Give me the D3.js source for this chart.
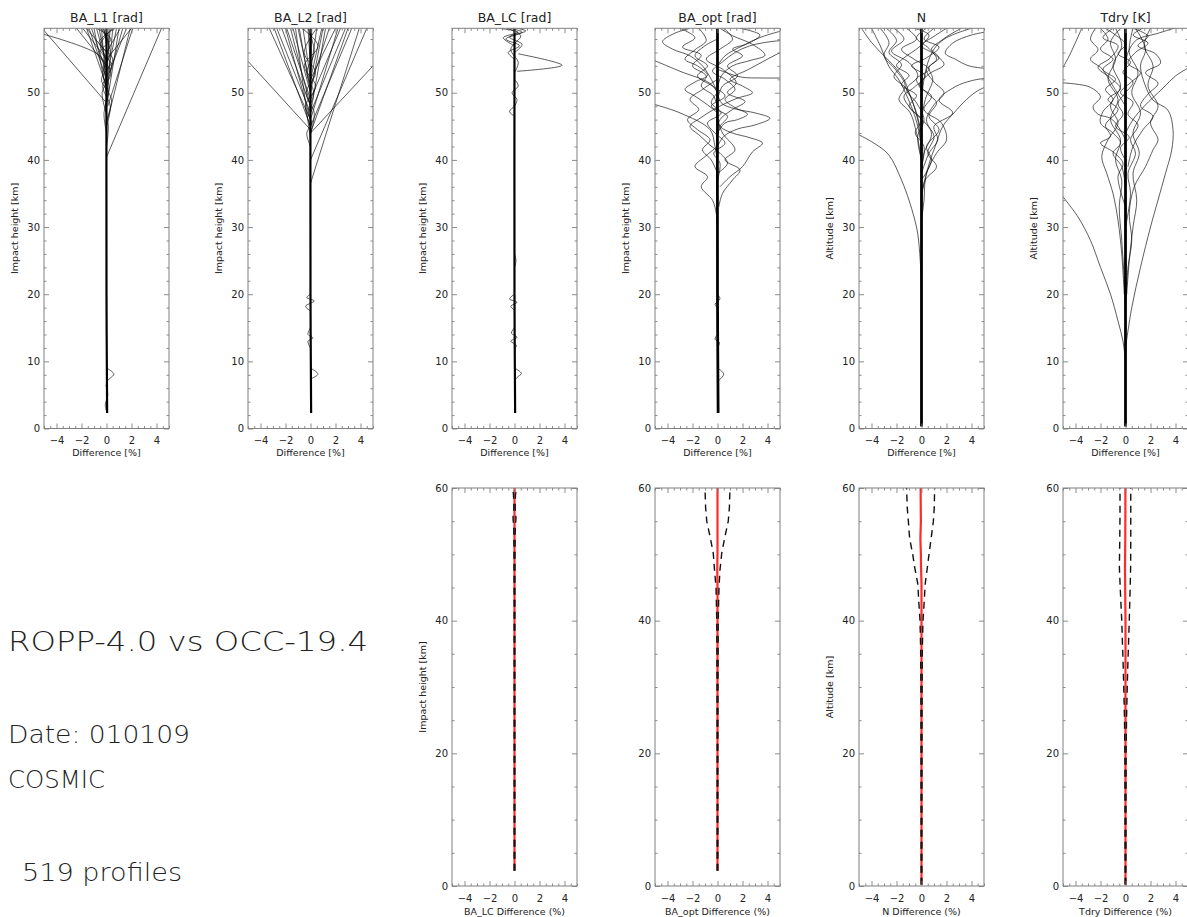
<!DOCTYPE html>
<html>
<head>
<meta charset="utf-8">
<script src="https://cdn.jsdelivr.net/npm/d3@7"></script>
<style>
  body { margin: 0; background: #fff; }
  svg text { font-family: "DejaVu Sans", sans-serif; fill: #222; }
</style>
</head>
<body>
<svg id="chart" width="1187" height="917"></svg>
<script>
// ---- labels ----
const panelTitles = ["BA_L1 [rad]", "BA_L2 [rad]", "BA_LC [rad]", "BA_opt [rad]", "N", "Tdry [K]"];
const topYLabels = ["Impact height [km]", "Impact height [km]", "Impact height [km]", "Impact height [km]", "Altitude [km]", "Altitude [km]"];
const bottomXLabels = ["BA_LC Difference (%)", "BA_opt Difference (%)", "N Difference (%)", "Tdry Difference (%)"];
const bottomYLabels = ["Impact height [km]", "", "Altitude [km]", ""];
const infoLines = ["ROPP-4.0 vs OCC-19.4", "Date: 010109", "COSMIC", "519 profiles"];

// ---- top row: individual difference profiles, [difference %, height km] ----
const ba1Core = [[0.05, 2.3], [0, 20], [0, 59.6]];
const ba1Profiles = [
  [[0, 48.5], [-5.2, 59.7]],
  [[0, 53.5], [-0.6, 55.6], [-5.2, 58.8]],
  [[0, 40.4], [4.4, 59.6]],
  [[0.1, 48], [2.1, 59.6]],
  [[0.1, 46], [1.9, 59.6]],
  [[0.2, 53], [1.6, 59.6]],
  [[0, 51], [-1.6, 59.6]],
  [[0, 53], [-1.2, 59.6]],
  [[-0.1, 55], [-0.8, 59.6]],
  [[0, 50], [-0.4, 59.6]],
  [[0, 52], [0.8, 59.6]],
  [[0, 56], [1.1, 59.6]],
  [[0, 49], [0.5, 59.6]],
  [[0, 55], [-1.9, 59.6]],
  [[0, 51], [1.3, 59.6]],
  [[0, 57], [-0.2, 59.6]],
  [[0, 54], [-2.4, 59.6]],
  [[0, 50], [-1.0, 59.6]],
  [[0, 52], [-1.4, 59.6]],
  [[0, 53], [0.3, 59.6]],
  [[0, 55], [2.0, 59.6]],
  [[0, 48], [1.0, 59.6]],
  [[0, 54], [-0.6, 59.6]],
  [[0, 56], [-1.6, 59.6]],
  [[0, 50], [0.2, 59.6]],
  [[0, 42], [0.15, 45], [-0.1, 48], [0.2, 51], [-0.25, 54], [0.2, 57], [-0.3, 59.6]],
  [[0, 44], [-0.2, 47], [0.15, 50], [-0.3, 53], [0.3, 56], [-0.4, 59.6]],
  [[0, 45], [0.3, 48], [-0.3, 51], [0.4, 54], [-0.5, 57], [0.5, 59.6]],
  [[0, 46], [0.4, 49], [-0.4, 52], [0.5, 55], [-0.6, 57.5], [0.7, 59.6]],
  [[0, 47], [-0.35, 50], [0.35, 53], [-0.55, 56], [0.35, 58], [-0.8, 59.6]],
  [[0, 9], [0.35, 8.6], [0.6, 8.1], [0.3, 7.5], [0, 7]],
  [[0.05, 2.3], [-0.1, 3.5], [0.1, 5], [-0.05, 6.5]]
];

const ba2Core = [[0.05, 2.3], [0, 20], [0, 59.6]];
const ba2Profiles = [
  [[0, 44.5], [-5.2, 55.1]],
  [[0, 44], [5.2, 54.4]],
  [[0, 36.5], [3.9, 59.6]],
  [[0, 40], [4.5, 59.6]],
  [[0, 45], [3.3, 59.6]],
  [[0, 47], [2.8, 59.6]],
  [[0, 46], [-3.3, 59.6]],
  [[0, 47], [-2.7, 59.6]],
  [[0, 48], [-2.3, 59.6]],
  [[0, 49], [-1.9, 59.6]],
  [[0, 50], [-1.4, 59.6]],
  [[0, 51], [-1.0, 59.6]],
  [[0, 52], [-0.6, 59.6]],
  [[0, 50], [1.0, 59.6]],
  [[0, 51], [1.5, 59.6]],
  [[0, 52], [2.0, 59.6]],
  [[0, 49], [2.4, 59.6]],
  [[0, 53], [0.5, 59.6]],
  [[0, 43], [-1.2, 59.6]],
  [[0, 54], [-0.2, 59.6]],
  [[0, 46], [-2.0, 59.6]],
  [[0, 48], [-1.6, 59.6]],
  [[0, 47], [1.2, 59.6]],
  [[0, 46], [2.2, 59.6]],
  [[0, 44], [3.0, 59.6]],
  [[0, 50], [-0.9, 59.6]],
  [[0, 52], [0.9, 59.6]],
  [[0, 45], [-2.9, 59.6]],
  [[0, 49], [0.1, 59.6]],
  [[0, 42], [-0.3, 44], [0.1, 45.5], [-0.2, 47], [0.25, 50], [-0.3, 53], [0.3, 56], [-0.2, 59.6]],
  [[0, 44], [0.3, 47], [-0.35, 50], [0.4, 53], [-0.5, 56], [0.5, 59.6]],
  [[0, 45], [-0.4, 48], [0.4, 51], [-0.5, 54], [0.6, 57], [-0.7, 59.6]],
  [[0, 20], [-0.3, 19.5], [0.3, 19], [-0.4, 18.2], [0, 17.5]],
  [[0, 15], [-0.2, 14], [0.2, 13.5], [-0.2, 13], [0, 12]],
  [[0, 9], [0.6, 8.1], [0.1, 7.4], [0, 7]]
];

const baLcCore = [[0.05, 2.3], [0, 20], [0, 59.6]];
const baLcProfiles = [
  [[0.3, 55.8], [3.8, 54.1], [0.2, 53.2]],
  [[0, 55], [-0.5, 56], [0.4, 57], [-0.7, 58], [0.6, 59], [-0.3, 59.6]],
  [[0, 56], [0.6, 57.2], [-0.4, 58.3], [0.9, 59.2], [0.2, 59.6]],
  [[0, 57], [-0.9, 58.2], [0.3, 59], [-1.2, 59.6]],
  [[0, 53], [0.3, 54.5], [-0.3, 56.5], [0.5, 58.5], [-0.6, 59.6]],
  [[0, 48], [-0.4, 47.2], [0, 46.5]],
  [[0, 52], [0.3, 51], [-0.2, 50], [0.2, 49], [0, 48]],
  [[0, 20], [-0.4, 19.3], [0.2, 18.8], [-0.3, 18.2], [0, 17.6]],
  [[0, 15], [-0.25, 14.2], [0.2, 13.6], [-0.3, 13], [0.15, 12.4], [0, 11.8]],
  [[0, 9], [0.55, 8.2], [0.2, 7.6], [0, 7]],
  [[0, 26], [0.12, 25], [0, 24]]
];

const baOptCore = [[0.05, 2.3], [0, 20], [0, 59.6]];
const baOptProfiles = [
  [[-5.3, 48.4], [-3, 47], [-0.6, 44.5], [-0.2, 42], [0, 40]],
  [[-5.3, 55], [-3, 53.2], [-0.6, 51.4], [0, 50]],
  [[-2.2, 59.6], [-3.5, 58.8], [-4.4, 57.6], [-3.6, 56.5], [-2.2, 55.5], [-1.2, 54], [-0.5, 52], [0, 50]],
  [[0, 53.5], [1, 52.8], [2, 52.3], [3.5, 52.2], [5.3, 52.2]],
  [[0, 50], [0.3, 48.5], [1.4, 47.6], [3, 47], [4.2, 46.2], [3, 45.2], [1.6, 44.6], [0.5, 43.5], [0, 42]],
  [[0, 46.5], [0.2, 45], [1.2, 44], [2.6, 43.3], [3.6, 42.5], [2.8, 41.2], [2, 39], [1, 37.5], [0.2, 36]],
  [[0.2, 59.6], [1.2, 58.5], [2.8, 57.2], [3.8, 55.6], [2.6, 54.8], [1.2, 54], [0.3, 52.5], [0, 50.5]],
  [[0, 52], [-1.2, 50.5], [-2.2, 49], [-1.5, 47.5], [-2.4, 46], [-1.6, 44.5], [-0.6, 43], [-1.2, 41.5], [-0.5, 40], [0, 38]],
  [[0, 58], [-1.0, 57], [-1.8, 55.5], [-0.8, 54], [-1.6, 52.5], [-0.4, 51], [0.6, 49.5], [-0.5, 48], [0.8, 46.5], [0.2, 45], [0, 43.5]],
  [[0.5, 59.6], [1.2, 58], [0.2, 56.5], [-0.9, 55], [0.4, 53.5], [1.5, 51.5], [0.8, 50], [2.2, 48.7], [1.2, 47.5], [0.2, 46], [0, 44]],
  [[0, 42], [-1.0, 40.5], [-1.8, 39], [-0.8, 37.5], [-1.3, 36], [-0.4, 34], [-0.1, 32], [0, 30]],
  [[0, 46], [0.4, 44], [1.4, 41.5], [0.6, 40], [1.8, 38.5], [1.2, 37], [0.4, 35], [0.1, 33]],
  [[-3.0, 59.6], [-1.8, 58.2], [-2.8, 56.8], [-1.3, 55.6], [-2.0, 54], [-0.9, 52.5], [-1.3, 51], [-0.3, 49.5], [0, 47.5]],
  [[1.8, 59.6], [3.4, 58.6], [2.4, 57.3], [1.2, 56.5], [2.0, 55.5], [0.8, 54], [1.6, 52.5], [0.4, 51], [0, 49]],
  [[0, 50], [-0.5, 48.5], [0.3, 47], [-0.8, 45.5], [-0.2, 44], [0.6, 42.5], [-0.3, 41], [0.2, 39.5], [0, 37]],
  [[0, 54], [0.6, 55.5], [2, 57], [3.5, 58.3], [5.3, 59.3]],
  [[0, 47], [-0.8, 48.2], [-1.8, 49.5], [-2.6, 50.5], [-1.8, 51.6], [-0.8, 52.6], [-1.6, 54], [-2.6, 55], [-1.8, 56.4], [-0.9, 57.8], [-1.5, 59.6]],
  [[0, 38], [0.8, 39.5], [0.2, 41], [-0.6, 42.2], [-1.4, 43.6], [-2.2, 45], [-1.4, 46.2], [-0.4, 47.4], [0.6, 48.4], [1.6, 49.2], [2.8, 50], [2.0, 51], [1.0, 52], [2.4, 53.4], [3.6, 54.6], [4.6, 55.6], [5.3, 56.2]],
  [[0, 44], [0.6, 45.5], [1.6, 46], [2.4, 46.8], [1.4, 47.8], [0.6, 49], [1.4, 50.5], [0.6, 52], [-0.4, 53.2], [0.4, 54.6], [1.4, 56], [2.6, 57], [4.2, 57.6], [5.3, 57.8]],
  [[0, 9], [0.5, 8.1], [0, 7]],
  [[0, 20], [0.2, 19.3], [-0.2, 18.5], [0, 18]],
  [[0, 14], [-0.2, 13.3], [0.15, 12.8], [0, 12]]
];

const nCore = [[0, 0.3], [0, 20], [0, 59.6]];
const nProfiles = [
  [[0, 21], [-0.1, 25], [-0.3, 29], [-0.6, 31.5], [-1.0, 34], [-1.6, 37], [-2.6, 40.7], [-3.8, 42.5], [-5.3, 44]],
  [[0, 31], [0.2, 34], [0.3, 37], [0.7, 40], [1.1, 42], [1.7, 45], [2.6, 47], [3.6, 49], [4.5, 50.3], [5.3, 51]],
  [[0, 38], [0.6, 41], [1.3, 43], [1.0, 45], [2.5, 47], [1.4, 48.9], [2.7, 50.9], [4.0, 51.8], [5.3, 52.2]],
  [[5.3, 59.1], [4.0, 58.6], [2.5, 57.4], [1.9, 55.9], [2.7, 55], [3.8, 54], [5.3, 53.6]],
  [[4.0, 59.6], [3.0, 59], [2.0, 58.2], [1.2, 57], [0.6, 55], [0.2, 52], [0, 49]],
  [[-4.0, 59.6], [-3.3, 57], [-2.6, 53.9], [-1.8, 51.9], [-0.7, 47.4], [-0.3, 45], [0, 42]],
  [[-3.3, 59.6], [-2.6, 57.5], [-3.0, 55.5], [-2.1, 53.5], [-1.3, 51], [-1.8, 49], [-0.9, 47], [-0.4, 44], [0, 40]],
  [[-2.2, 59.6], [-1.4, 58], [-2.4, 56.2], [-1.0, 54.5], [-0.3, 52.5], [-1.2, 50.5], [-0.4, 48.5], [0.2, 46], [-0.3, 43.5], [0, 40]],
  [[-1.2, 59.6], [-0.4, 58], [-1.6, 56.5], [-0.6, 55], [0.6, 53.5], [-0.4, 52], [0.4, 50], [1.2, 48.5], [0.6, 46.5], [1.4, 44.5], [0.4, 42], [0.8, 40], [0, 37]],
  [[1.0, 59.6], [0.2, 58], [1.4, 56.8], [0.4, 55.2], [-0.8, 54], [0.3, 52.5], [-0.6, 50.8], [-1.4, 49.5], [-0.8, 47.5], [0.3, 45.5], [1.0, 43.5], [0.5, 41], [1.2, 39], [0.3, 37], [0, 34]],
  [[2.0, 59.6], [1.0, 58.4], [0.0, 57], [1.0, 55.8], [1.8, 54.2], [0.6, 52.8], [-0.2, 51], [0.8, 49.5], [0.2, 47.5], [1.6, 45.5], [2.0, 43], [1.2, 41], [0.5, 38.5], [0, 35]],
  [[-0.6, 59.6], [0.6, 58.6], [-0.2, 56.8], [-1.4, 55.2], [-2.0, 54], [-1.0, 52.6], [-1.6, 51.2], [-0.4, 49.6], [-1.0, 48], [0, 46], [-0.5, 44], [0.2, 42], [0, 39]],
  [[3.2, 59.6], [2.4, 58.8], [1.6, 57.8], [0.8, 56.5], [1.4, 55.2], [0.6, 53.8], [0.9, 52], [0.3, 49], [0, 46]],
  [[-4.8, 59.6], [-4.0, 57.5], [-3.0, 55.5], [-2.2, 54], [-1.4, 52], [-1.0, 50], [-0.4, 47], [0, 44]],
  [[-2.8, 59.6], [-2.0, 57.8], [-2.6, 56], [-1.6, 54.2], [-2.2, 52.4], [-1.2, 50.6], [-0.6, 48], [-0.2, 45], [0, 41]],
  [[0.4, 59.6], [-0.4, 58.2], [0.6, 56.6], [1.2, 55], [0.4, 53.4], [1.0, 51.6], [1.8, 50], [1.0, 48.2], [0.4, 46], [0.8, 43.8], [0.2, 41], [0, 38]]
];

const tdryCore = [[0, 0.3], [0, 20], [0, 59.6]];
const tdryProfiles = [
  [[0, 10], [-0.2, 13], [-0.6, 16], [-1.2, 20], [-2.0, 24], [-2.8, 28], [-3.8, 31.5], [-5.3, 35.2]],
  [[-5.3, 51.5], [-4.0, 51.3], [-2.8, 50.8], [-2.0, 49.4], [-2.6, 47.9], [-2.2, 46.8], [-1.2, 46.2], [-0.6, 45], [0, 43]],
  [[-5.3, 52.8], [-4.5, 55.5], [-3.5, 59.6]],
  [[0, 12], [0.5, 18], [1.2, 24], [2.0, 30], [2.6, 34], [3.2, 38], [3.7, 41.5], [3.8, 44.5], [3.4, 47.4], [2.2, 48.9], [1.6, 51], [1.2, 54], [1.6, 56.5], [0.8, 59.6]],
  [[0, 44], [0.6, 46], [1.5, 48], [3.0, 50.7], [4.0, 52.5], [5.3, 54]],
  [[4.2, 59.8], [2.5, 58.8], [0.9, 57.9], [0.2, 56], [0, 54]],
  [[-2.0, 59.6], [-1.4, 58], [-2.0, 56.5], [-1.0, 55], [-1.8, 53.5], [-0.8, 52], [-1.6, 50.5], [-1.0, 49], [-1.8, 47.2], [-2.0, 45.5], [-1.0, 44], [-0.4, 42.5], [-1.0, 41], [-0.3, 39], [0, 36]],
  [[-1.0, 59.6], [-1.8, 58.2], [-0.6, 57], [-1.2, 55.2], [-2.2, 53.8], [-1.2, 52.2], [-0.4, 50.6], [-1.4, 49], [-0.6, 47.5], [-1.6, 45.2], [-1.2, 43.5], [-2.0, 42.5], [-1.0, 41.2], [-0.2, 39.5], [-0.6, 37.5], [0, 33]],
  [[0.6, 59.6], [1.8, 58.4], [1.0, 57], [2.4, 55.8], [2.8, 54.4], [1.6, 53], [2.6, 51.4], [1.8, 49.8], [1.2, 48], [2.2, 46.5], [1.4, 44.5], [0.6, 42], [0.2, 39]],
  [[1.4, 59.6], [0.6, 58.6], [1.8, 57.4], [0.8, 56], [0.2, 54.4], [1.2, 53], [0.4, 51.5], [-0.4, 50], [0.6, 48.6], [0.2, 46.8], [1.0, 45.2], [0.4, 43], [0.8, 41], [0.2, 38], [0.4, 35], [0, 30]],
  [[-1.6, 59.6], [-0.8, 58.6], [0, 57.2], [-0.6, 55.8], [0.4, 54.6], [-0.2, 53], [0.6, 51.6], [0, 50], [-0.6, 48.4], [-0.2, 46.8], [-0.8, 45], [0.3, 43.4], [-0.4, 41.8], [0, 40]],
  [[0.1, 20], [0.3, 25], [0.6, 30], [0.9, 34], [0.6, 38], [1.1, 41], [0.6, 44], [1.2, 47], [0.5, 50], [1.0, 53], [0.3, 56], [0.6, 59.6]],
  [[-0.1, 20], [-0.3, 26], [-0.6, 31], [-1.0, 35], [-1.5, 38], [-1.9, 40.5], [-1.4, 43], [-0.6, 45.5], [-1.2, 48], [-0.4, 51], [-1.0, 54], [-0.3, 57], [-0.8, 59.6]],
  [[-2.4, 59.6], [-2.8, 58], [-2.2, 56.4], [-2.8, 55], [-1.9, 53.6], [-1.0, 51], [0, 48]],
  [[0, 18], [0.2, 24], [0.5, 28], [0.3, 32], [0.7, 36], [1.6, 39], [2.2, 41.5], [2.6, 43], [2.0, 45.5], [2.6, 48], [1.8, 51], [2.2, 54], [1.5, 57], [2.0, 59.6]],
  [[0, 16], [-0.1, 22], [-0.3, 28], [-0.5, 33], [-0.3, 37], [-0.8, 40], [-0.4, 43], [-1.2, 46], [-0.6, 49], [-1.4, 52], [-0.8, 55], [-1.2, 57.5], [-0.4, 59.6]]
];

// ---- bottom row: statistics, [height km, mean %, std dev %] ----
const baLcStats = [[2.3, 0, 0.03], [10, 0, 0.03], [20, 0, 0.03], [30, 0, 0.03], [40, 0, 0.03], [50, 0, 0.04], [54, 0, 0.06], [55.5, 0, 0.12], [57, 0, 0.05], [59, 0, 0.08], [60, 0, 0.15]];
const baOptStats = [[2.3, 0, 0.03], [20, 0, 0.03], [30, 0, 0.04], [40, 0, 0.06], [42, 0, 0.08], [45, 0, 0.12], [47.7, -0.02, 0.22], [50.2, 0, 0.34], [52.7, 0, 0.6], [55, 0, 0.86], [57, 0, 0.95], [60, 0, 1.0]];
const nStats = [[0.2, 0, 0.03], [20, 0, 0.04], [30, 0, 0.05], [36, 0, 0.07], [40, 0, 0.12], [43, 0, 0.22], [45.6, 0, 0.3], [48.2, -0.04, 0.52], [50, -0.05, 0.65], [52.4, -0.09, 0.86], [55, -0.05, 1.0], [57, -0.06, 1.08], [60, -0.07, 1.12]];
const tdryStats = [[0.2, 0, 0.03], [20, 0, 0.05], [25, 0, 0.08], [30, 0, 0.14], [33.6, 0, 0.19], [37, 0, 0.25], [40, 0, 0.3], [44, -0.02, 0.38], [48, -0.04, 0.45], [52, -0.02, 0.44], [56, -0.01, 0.43], [60, -0.01, 0.43]];

const topCores = [ba1Core, ba2Core, baLcCore, baOptCore, nCore, tdryCore];
const topProfiles = [ba1Profiles, ba2Profiles, baLcProfiles, baOptProfiles, nProfiles, tdryProfiles];
const bottomStats = [baLcStats, baOptStats, nStats, tdryStats];

// ---- layout ----
const svg = d3.select("#chart");
const colLeft = [44, 248, 452, 655, 859, 1063];
const panelW = 125;
const topRow = { top: 28.3, bottom: 428.5, ymax: 59.6 };
const botRow = { top: 488, bottom: 886, ymax: 60 };
const axisColor = "#808080";

function axisPiece(g, axisFn, scale, values, size, pad, labelled, translate) {
  const a = g.append("g")
    .attr("transform", translate)
    .call(axisFn(scale).tickValues(values).tickSize(size).tickPadding(pad)
      .tickFormat(labelled ? d3.format("d") : ""));
  a.select(".domain").remove();
  a.selectAll("line").attr("stroke", axisColor).attr("stroke-width", 0.9);
  a.selectAll("text").attr("font-family", "DejaVu Sans, sans-serif").attr("font-size", 10).attr("fill", "#333");
  a.attr("font-family", null).attr("font-size", null);
  return a;
}

function drawFrame(g, x, y, yMajor, yMinor, xPad) {
  const [x0, x1] = x.range();
  const [y0, y1] = y.range();
  const xMajor = [-4, -2, 0, 2, 4];
  const xMinor = d3.range(-5, 5.01, 0.5).filter(v => !xMajor.includes(v));
  axisPiece(g, d3.axisBottom, x, xMajor, -5, xPad, true, `translate(0,${y0})`);
  axisPiece(g, d3.axisBottom, x, xMinor, -2.5, 0, false, `translate(0,${y0})`);
  axisPiece(g, d3.axisTop, x, xMajor, -5, 0, false, `translate(0,${y1})`);
  axisPiece(g, d3.axisTop, x, xMinor, -2.5, 0, false, `translate(0,${y1})`);
  axisPiece(g, d3.axisLeft, y, yMajor, -5, 4, true, `translate(${x0},0)`);
  axisPiece(g, d3.axisLeft, y, yMinor, -2.5, 0, false, `translate(${x0},0)`);
  axisPiece(g, d3.axisRight, y, yMajor, -5, 0, false, `translate(${x1},0)`);
  axisPiece(g, d3.axisRight, y, yMinor, -2.5, 0, false, `translate(${x1},0)`);
  g.append("rect")
    .attr("x", x0).attr("y", y1)
    .attr("width", x1 - x0).attr("height", y0 - y1)
    .attr("fill", "none").attr("stroke", axisColor).attr("stroke-width", 1);
}

function clipFor(id, x, y) {
  const [x0, x1] = x.range();
  const [y0, y1] = y.range();
  svg.append("clipPath").attr("id", id)
    .append("rect").attr("x", x0).attr("y", y1).attr("width", x1 - x0).attr("height", y0 - y1);
  return `url(#${id})`;
}

function yLabel(g, text, x, y) {
  if (!text) return;
  g.append("text")
    .attr("transform", `translate(${x},${y}) rotate(-90)`)
    .attr("text-anchor", "middle")
    .attr("font-size", 9.5)
    .text(text);
}

// ---- top row ----
topProfiles.forEach((profiles, i) => {
  const left = colLeft[i];
  const x = d3.scaleLinear().domain([-5, 5]).range([left, left + panelW]);
  const y = d3.scaleLinear().domain([0, topRow.ymax]).range([topRow.bottom, topRow.top]);
  const g = svg.append("g");
  const line = d3.line().x(d => x(d[0])).y(d => y(d[1])).curve(d3.curveCatmullRom);

  const lines = g.append("g").attr("clip-path", clipFor("clipTop" + i, x, y));
  lines.selectAll("path.prof")
    .data(profiles)
    .join("path")
    .attr("class", "prof")
    .attr("d", line)
    .attr("fill", "none")
    .attr("stroke", "#111")
    .attr("stroke-width", 0.8)
    .attr("stroke-opacity", 0.85);
  lines.append("path")
    .datum(topCores[i])
    .attr("d", line)
    .attr("fill", "none")
    .attr("stroke", "#000")
    .attr("stroke-width", i > 2 ? 2.8 : 2.2);

  drawFrame(g, x, y, d3.range(0, 51, 10), d3.range(2, 59.6, 2).filter(v => v % 10 !== 0), 8);

  g.append("text")
    .attr("x", left + panelW / 2).attr("y", 22)
    .attr("text-anchor", "middle")
    .attr("font-size", 12.5)
    .text(panelTitles[i]);
  g.append("text")
    .attr("x", left + panelW / 2).attr("y", 456)
    .attr("text-anchor", "middle")
    .attr("font-size", 9.5)
    .text("Difference [%]");
  yLabel(g, topYLabels[i], left - 26, (topRow.top + topRow.bottom) / 2);
});

// ---- bottom row ----
bottomStats.forEach((stats, j) => {
  const left = colLeft[j + 2];
  const x = d3.scaleLinear().domain([-5, 5]).range([left, left + panelW]);
  const y = d3.scaleLinear().domain([0, botRow.ymax]).range([botRow.bottom, botRow.top]);
  const g = svg.append("g");
  const lines = g.append("g").attr("clip-path", clipFor("clipBot" + j, x, y));

  const meanLine = d3.line().x(d => x(d[1])).y(d => y(d[0]));
  const lowLine = d3.line().x(d => x(d[1] - d[2])).y(d => y(d[0]));
  const highLine = d3.line().x(d => x(d[1] + d[2])).y(d => y(d[0]));

  lines.append("path").datum(stats).attr("d", meanLine)
    .attr("fill", "none").attr("stroke", "#ff2a2a").attr("stroke-width", 2.2);
  [lowLine, highLine].forEach(fn => {
    lines.append("path").datum(stats).attr("d", fn)
      .attr("fill", "none").attr("stroke", "#111").attr("stroke-width", 1.4)
      .attr("stroke-dasharray", "7,5");
  });

  drawFrame(g, x, y, [0, 20, 40, 60], d3.range(5, 60, 5).filter(v => v % 20 !== 0), 9);

  g.append("text")
    .attr("x", left + panelW / 2).attr("y", 915)
    .attr("text-anchor", "middle")
    .attr("font-size", 9.5)
    .text(bottomXLabels[j]);
  yLabel(g, bottomYLabels[j], left - 26, (botRow.top + botRow.bottom) / 2);
});

// ---- info text ----
const info = svg.append("g").attr("font-weight", 300);
const infoPos = [[8, 651, 26, 360], [8, 743, 24, 182], [8, 788, 24, 97], [22, 881, 24, 160]];
info.selectAll("text")
  .data(infoLines)
  .join("text")
  .attr("x", (d, k) => infoPos[k][0])
  .attr("y", (d, k) => infoPos[k][1])
  .attr("font-size", (d, k) => infoPos[k][2])
  .attr("textLength", (d, k) => infoPos[k][3])
  .attr("lengthAdjust", "spacingAndGlyphs")
  .text(d => d);
</script>
</body>
</html>
